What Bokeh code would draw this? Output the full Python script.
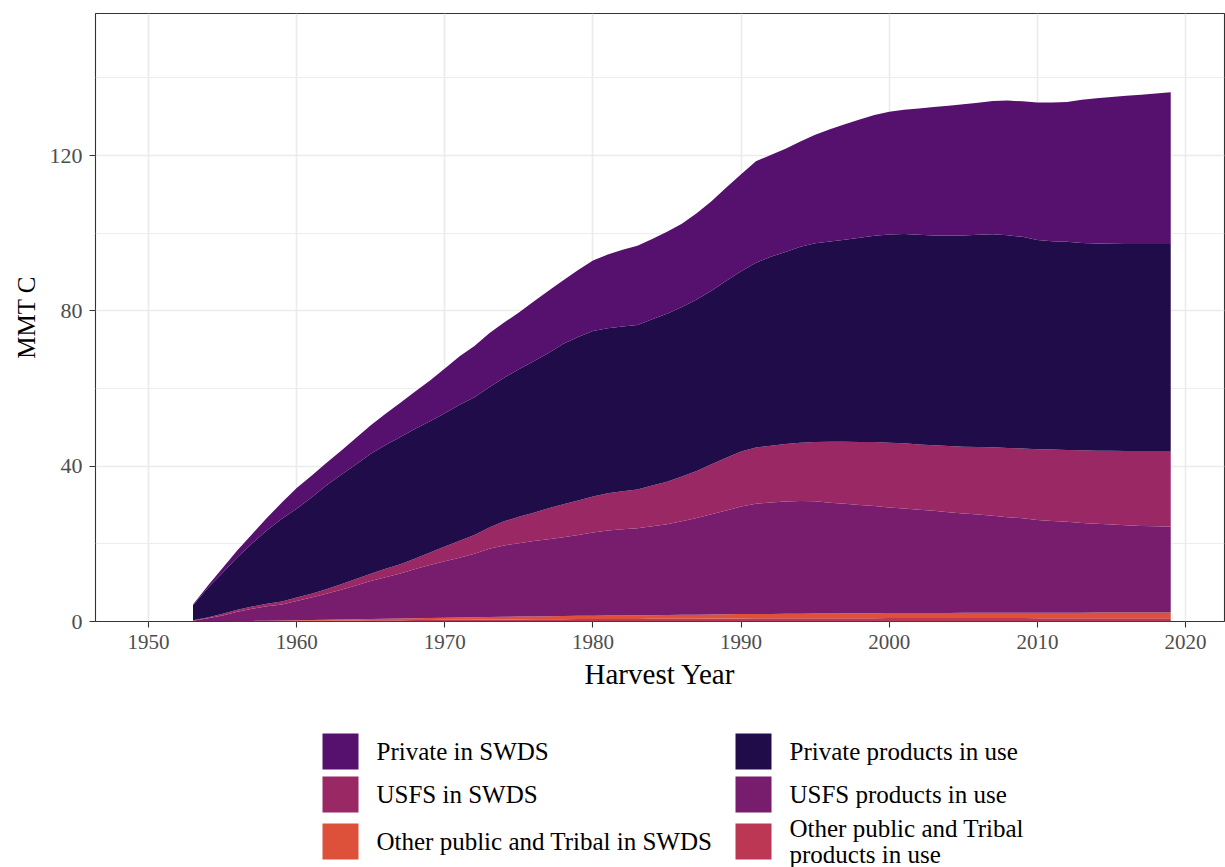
from bokeh.plotting import figure
from bokeh.layouts import column
from bokeh.models import ColumnDataSource, FixedTicker, Range1d
from bokeh.core.properties import value
from bokeh.embed import file_html
from bokeh.resources import INLINE

years = list(range(1953, 2020))

other_products_in_use = [
    0.0, 0.02, 0.05, 0.08, 0.1, 0.12, 0.15,
    0.18, 0.2, 0.22, 0.25, 0.28, 0.3, 0.32, 0.35, 0.38, 0.4,
    0.42, 0.45, 0.47, 0.5, 0.52, 0.54, 0.56, 0.58, 0.6, 0.62,
    0.64, 0.65, 0.66, 0.67, 0.68, 0.7, 0.72, 0.74, 0.76, 0.78,
    0.8, 0.81, 0.82, 0.83, 0.84, 0.85, 0.85, 0.86, 0.86, 0.86,
    0.87, 0.87, 0.87, 0.87, 0.87, 0.87, 0.87, 0.87, 0.87, 0.87,
    0.86, 0.86, 0.86, 0.86, 0.86, 0.86, 0.86, 0.86, 0.86, 0.86,
]
other_in_swds = [
    0.0, 0.01, 0.02, 0.04, 0.06, 0.08, 0.1,
    0.13, 0.16, 0.2, 0.24, 0.28, 0.32, 0.36, 0.4, 0.44, 0.48,
    0.52, 0.56, 0.6, 0.64, 0.68, 0.72, 0.75, 0.78, 0.81, 0.84,
    0.87, 0.89, 0.91, 0.93, 0.95, 0.97, 1.0, 1.02, 1.05, 1.08,
    1.1, 1.12, 1.14, 1.16, 1.18, 1.2, 1.22, 1.24, 1.26, 1.28,
    1.3, 1.32, 1.33, 1.34, 1.35, 1.36, 1.37, 1.38, 1.39, 1.4,
    1.4, 1.41, 1.42, 1.42, 1.43, 1.43, 1.44, 1.44, 1.45, 1.45,
]
usfs_products_in_use = [
    0.2, 0.8, 1.5, 2.4, 3.1, 3.7, 4.1,
    5.0, 5.8, 6.7, 7.7, 8.7, 9.8, 10.7, 11.6, 12.7, 13.7,
    14.6, 15.4, 16.4, 17.6, 18.4, 18.9, 19.4, 19.8, 20.3, 20.8,
    21.4, 21.9, 22.2, 22.4, 22.9, 23.4, 24.1, 24.9, 25.8, 26.7,
    27.7, 28.4, 28.7, 28.9, 29.0, 28.9, 28.5, 28.2, 27.9, 27.6,
    27.2, 26.9, 26.6, 26.3, 25.9, 25.6, 25.3, 25.0, 24.6, 24.3,
    23.9, 23.6, 23.4, 23.1, 22.9, 22.7, 22.5, 22.3, 22.2, 22.1,
]
usfs_in_swds = [
    0.1, 0.2, 0.4, 0.5, 0.6, 0.7, 0.8,
    0.9, 1.0, 1.2, 1.4, 1.7, 1.9, 2.2, 2.4, 2.7, 3.2,
    3.8, 4.4, 4.8, 5.5, 6.2, 6.8, 7.3, 8.0, 8.5, 8.9,
    9.3, 9.6, 9.8, 10.0, 10.5, 10.9, 11.5, 12.1, 12.9, 13.6,
    14.2, 14.5, 14.6, 14.8, 15.0, 15.3, 15.7, 16.0, 16.2, 16.5,
    16.7, 16.8, 16.8, 16.9, 17.1, 17.2, 17.4, 17.6, 17.8, 18.0,
    18.2, 18.4, 18.5, 18.7, 18.8, 19.0, 19.1, 19.3, 19.4, 19.5,
]
private_products_in_use = [
    3.9, 7.6, 10.6, 13.5, 16.3, 18.9, 21.3,
    22.8, 24.8, 26.7, 28.2, 29.5, 30.9, 31.9, 32.8, 33.4, 33.8,
    34.3, 35.0, 35.5, 36.1, 37.0, 38.0, 39.0, 40.0, 41.3, 42.1,
    42.6, 42.5, 42.4, 42.4, 42.8, 43.3, 43.7, 44.2, 44.7, 45.6,
    46.4, 47.6, 48.7, 49.5, 50.5, 51.2, 51.6, 52.0, 52.6, 53.1,
    53.6, 53.9, 54.0, 54.0, 54.2, 54.4, 54.7, 54.9, 54.8, 54.5,
    53.9, 53.7, 53.6, 53.4, 53.4, 53.3, 53.3, 53.3, 53.3, 53.3,
]
private_in_swds = [
    0.2, 0.6, 1.2, 1.8, 2.4, 3.2, 4.2,
    5.4, 5.6, 5.8, 6.2, 6.8, 7.3, 8.0, 8.8, 9.6, 10.5,
    11.5, 12.5, 13.2, 13.9, 14.2, 14.6, 15.4, 16.0, 16.4, 17.3,
    18.2, 19.0, 19.8, 20.4, 20.7, 21.1, 21.4, 22.2, 23.0, 24.0,
    25.0, 26.1, 26.2, 26.6, 27.1, 27.9, 28.9, 29.8, 30.5, 31.1,
    31.6, 32.0, 32.5, 33.1, 33.4, 33.8, 34.0, 34.3, 34.7, 34.9,
    35.4, 35.7, 36.0, 36.9, 37.4, 37.8, 38.2, 38.5, 38.8, 39.1,
]

# stacking order bottom -> top
series_keys = ["op", "os", "up", "us", "pp", "ps"]
series_labels = [
    "Other public and Tribal\nproducts in use",
    "Other public and Tribal in SWDS",
    "USFS products in use",
    "USFS in SWDS",
    "Private products in use",
    "Private in SWDS",
]
series_colors = ["#BC3754", "#DD513A", "#781C6D", "#9A2865", "#210C4A", "#56106E"]

x_ticks = [1950, 1960, 1970, 1980, 1990, 2000, 2010, 2020]
y_ticks = [0, 40, 80, 120]
y_minor = [20, 60, 100, 140]

source = ColumnDataSource(dict(
    year=years,
    op=other_products_in_use,
    os=other_in_swds,
    up=usfs_products_in_use,
    us=usfs_in_swds,
    pp=private_products_in_use,
    ps=private_in_swds,
))

FONT = "Liberation Serif"
FRAME_LEFT = 95
FRAME_W = 1129

p = figure(
    frame_width=FRAME_W, frame_height=608,
    min_border_left=FRAME_LEFT, min_border_top=13, min_border_right=1, min_border_bottom=104,
    x_range=Range1d(1946.42, 2022.63), y_range=Range1d(0, 156.6),
    output_backend="svg", toolbar_location=None,
)
p.background_fill_color = "white"
p.border_fill_color = "white"
p.outline_line_color = "#333333"
p.outline_line_width = 1.1

p.varea_stack(series_keys, x="year", source=source, color=series_colors)

# grids
p.xgrid.ticker = FixedTicker(ticks=x_ticks)
p.ygrid.ticker = FixedTicker(ticks=y_ticks, minor_ticks=y_minor)
for g in (p.xgrid, p.ygrid):
    g.grid_line_color = "#EBEBEB"
    g.grid_line_width = 1.6
p.ygrid.minor_grid_line_color = "#EBEBEB"
p.ygrid.minor_grid_line_width = 0.9

# axes
p.xaxis.ticker = FixedTicker(ticks=x_ticks)
p.yaxis.ticker = FixedTicker(ticks=y_ticks)
for ax in (p.xaxis, p.yaxis):
    ax.axis_line_color = None
    ax.major_tick_line_color = "#333333"
    ax.major_tick_line_width = 1.1
    ax.major_tick_out = 6
    ax.major_tick_in = 0
    ax.minor_tick_line_color = None
    ax.major_label_text_font = FONT
    ax.major_label_text_color = "#4D4D4D"
    ax.axis_label_text_font = FONT
    ax.axis_label_text_font_style = "normal"
    ax.axis_label_text_color = "black"
p.xaxis.major_label_text_font_size = "21px"
p.yaxis.major_label_text_font_size = "22px"
p.xaxis.major_label_standoff = 7
p.yaxis.major_label_standoff = 7
p.xaxis.axis_label = "Harvest Year"
p.yaxis.axis_label = "MMT C"
p.xaxis.axis_label_text_font_size = "29px"
p.yaxis.axis_label_text_font_size = "25px"
p.xaxis.axis_label_standoff = 6
p.yaxis.axis_label_standoff = 7

# legend panel below the chart (two columns, row-major: Private, USFS, Other)
legend_order = [5, 4, 3, 2, 1, 0]
leg_labels = [series_labels[i] for i in legend_order]
leg_colors = [series_colors[i] for i in legend_order]

LEG_H = 142
leg = figure(
    width=1225, height=LEG_H,
    frame_width=FRAME_W, frame_height=LEG_H,
    min_border_left=FRAME_LEFT, min_border_right=1, min_border_top=0, min_border_bottom=0,
    x_range=Range1d(FRAME_LEFT, FRAME_LEFT + FRAME_W), y_range=Range1d(LEG_H, 0),
    x_axis_type=None, y_axis_type=None,
    output_backend="svg", toolbar_location=None,
)
leg.outline_line_color = None
leg.xgrid.visible = False
leg.ygrid.visible = False

col_left = [322, 735]
row_center = [26, 69, 116]
key_x = [col_left[k % 2] + 18 for k in range(len(leg_labels))]
key_y = [row_center[k // 2] for k in range(len(leg_labels))]
lab_x = [col_left[k % 2] + 54 for k in range(len(leg_labels))]

leg.rect(x=key_x, y=key_y, width=36, height=36, fill_color=leg_colors, line_color=None)
leg.text(
    x=lab_x, y=key_y, text=leg_labels,
    text_baseline="middle", text_align="left",
    text_font=value(FONT), text_font_size="25px",
    text_line_height=0.96, text_color="black",
)

layout = column(p, leg, spacing=0)
open("out.html", "w").write(file_html(layout, INLINE))
